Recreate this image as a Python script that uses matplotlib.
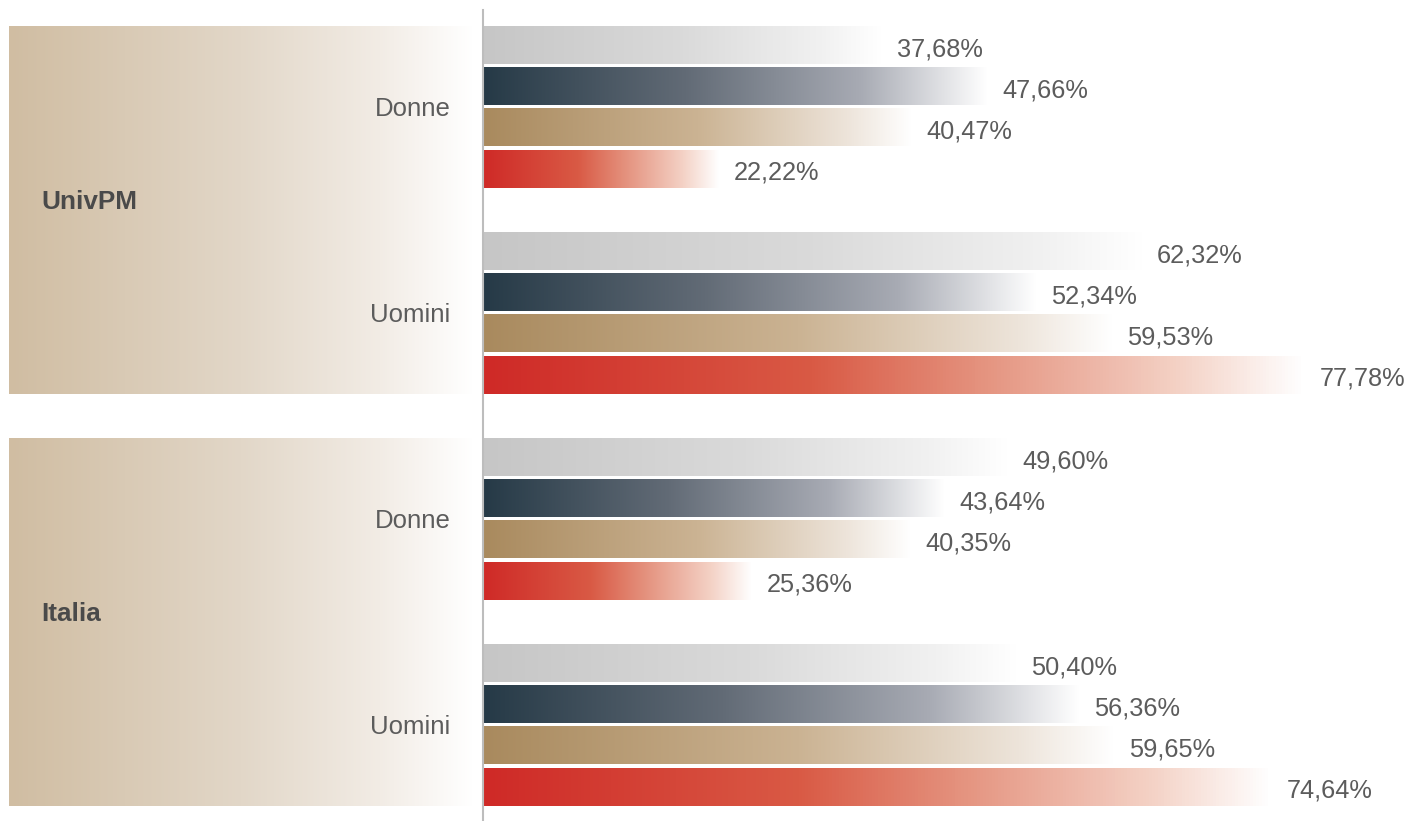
import matplotlib.pyplot as plt
import numpy as np
from matplotlib.colors import LinearSegmentedColormap

# dati: per ogni blocco (UnivPM Donne, UnivPM Uomini, Italia Donne, Italia Uomini)
gruppi = ['UnivPM', 'Italia']
generi = ['Donne', 'Uomini']
serie_grigio = [37.68, 62.32, 49.60, 50.40]
serie_blu = [47.66, 52.34, 43.64, 56.36]
serie_oro = [40.47, 59.53, 40.35, 59.65]
serie_rosso = [22.22, 77.78, 25.36, 74.64]

serie = [serie_grigio, serie_blu, serie_oro, serie_rosso]

cmaps = [
    LinearSegmentedColormap.from_list('grigio', [(0, '#C6C6C6'), (0.5, '#DADADA'), (0.85, '#F1F1F1'), (1, '#FFFFFF')]),
    LinearSegmentedColormap.from_list('blu', [(0, '#263A47'), (0.4, '#626B76'), (0.75, '#A8ABB4'), (1, '#FFFFFF')]),
    LinearSegmentedColormap.from_list('oro', [(0, '#A98A5E'), (0.5, '#CBB393'), (0.85, '#EDE4DA'), (1, '#FFFFFF')]),
    LinearSegmentedColormap.from_list('rosso', [(0, '#CF2A27'), (0.4, '#D95A45'), (0.6, '#E4917D'), (0.85, '#F4D2C6'), (1, '#FFFFFF')]),
]
cmap_pannello = LinearSegmentedColormap.from_list(
    'pannello', [(0, '#D0BDA2'), (0.5, '#E2D7C8'), (0.8, '#F2ECE5'), (1, '#FFFFFF')])

plt.rcParams['font.family'] = ['Liberation Sans', 'DejaVu Sans']
testo = '#5c5c5c'

fig = plt.figure(figsize=(14.09, 8.21), dpi=100)
W, H = 1409, 821
x0 = 484
ax = fig.add_axes([x0 / W, 0, 1 - x0 / W, 1])
left = fig.add_axes([9 / W, 0, (473 - 9) / W, 1], sharey=ax)

passo = 41.2
centro0 = 45
h = 38 / passo
gradiente = np.linspace(0, 1, 256).reshape(1, -1)

for b in range(4):
    for k, (vals, cm) in enumerate(zip(serie, cmaps)):
        y = 5 * b + k
        v = vals[b]
        ax.imshow(gradiente, cmap=cm, aspect='auto', interpolation='bilinear',
                  extent=[0, v, y + h / 2, y - h / 2])
        ax.text(v + 1.4, y + 0.1, f'{v:.2f}%'.replace('.', ','), va='center', ha='left',
                fontsize=18.3, color=testo)
    left.text(0.952, 5 * b + 1.55, generi[b % 2], ha='right', va='center',
              fontsize=18.5, color=testo)

for g, nome in enumerate(gruppi):
    top = 10 * g - h / 2
    bot = 10 * g + 8 + h / 2
    left.imshow(gradiente, cmap=cmap_pannello, aspect='auto', interpolation='bilinear',
                extent=[0, 1, bot, top])
    left.text(0.069, 10 * g + 3.8, nome, ha='left', va='center', fontsize=18.8,
              fontweight='bold', color='#4a4a4a')

ax.set_xlim(0, (W - x0) / 10.56)
ax.set_ylim((H - centro0) / passo, -centro0 / passo)
left.set_xlim(0, 1)
ax.axvline(-0.1, ymin=0, ymax=(H - 10) / H, color='#BDBDBD', lw=1.5, clip_on=False)
ax.axis('off')
left.axis('off')

fig.savefig('out.png', dpi=100)
